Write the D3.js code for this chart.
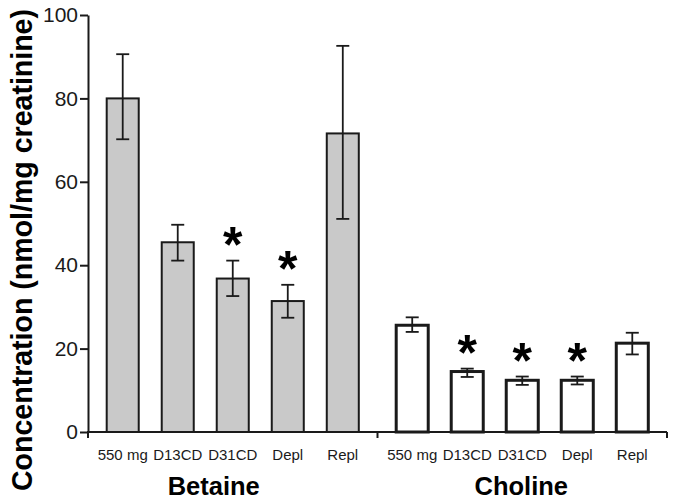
<!DOCTYPE html>
<html>
<head>
<meta charset="utf-8">
<script src="https://cdn.jsdelivr.net/npm/d3@7"></script>
<style>
  html, body { margin: 0; padding: 0; background: #fff; }
  svg { display: block; font-family: "Liberation Sans", Arial, sans-serif; }
</style>
</head>
<body>
<svg id="chart" width="675" height="503"></svg>
<script>
// ---- data ----
const groups = ["Betaine", "Choline"];
const categories = ["550 mg", "D13CD", "D31CD", "Depl", "Repl"];
const betaineMean = [80.0, 45.5, 36.8, 31.4, 71.6];
const betaineLow  = [70.2, 41.1, 32.6, 27.4, 51.1];
const betaineHigh = [90.6, 49.7, 41.1, 35.3, 92.6];
const betaineSig  = [false, false, true, true, false];
const cholineMean = [25.6, 14.5, 12.4, 12.4, 21.3];
const cholineLow  = [24.0, 13.2, 11.3, 11.4, 18.6];
const cholineHigh = [27.5, 15.2, 13.3, 13.3, 23.8];
const cholineSig  = [false, true, true, true, false];
const yTicks = [0, 20, 40, 60, 80, 100];
const yTitle = "Concentration (nmol/mg creatinine)";

const series = [
  { group: "Betaine", mean: betaineMean, low: betaineLow, high: betaineHigh, sig: betaineSig, fill: "#c9c9c9", sw: 2 },
  { group: "Choline", mean: cholineMean, low: cholineLow, high: cholineHigh, sig: cholineSig, fill: "#ffffff", sw: 3 }
];

const svg = d3.select("#chart");
const mLeft = 88, mRight = 667, mTop = 15, mBottom = 432;

const y = d3.scaleLinear().domain([0, 100]).range([mBottom, mTop]);
const x0 = d3.scaleBand().domain(groups).range([mLeft, mRight]).padding(0);
const x1 = d3.scaleBand().domain(categories).range([0, x0.bandwidth()])
  .paddingInner(0.418).paddingOuter(0.34);

const ink = "#1a1a1a";

// y axis
const yAxis = svg.append("g").attr("transform", `translate(${mLeft},0)`)
  .call(d3.axisLeft(y).tickValues(yTicks).tickSize(8).tickPadding(2).tickSizeOuter(0));
yAxis.select(".domain").attr("stroke", ink).attr("stroke-width", 2);
yAxis.selectAll(".tick line").attr("stroke", ink).attr("stroke-width", 2);
yAxis.selectAll(".tick text").attr("fill", ink).attr("font-size", 21)
  .attr("font-family", "Liberation Sans, Arial, sans-serif");

// x axis baseline with group ticks
svg.append("line").attr("x1", mLeft - 1).attr("x2", mRight).attr("y1", mBottom).attr("y2", mBottom)
  .attr("stroke", ink).attr("stroke-width", 2);
const bounds = [mLeft, x0("Choline"), mRight];
svg.selectAll(".gtick").data(bounds).enter().append("line")
  .attr("x1", d => d).attr("x2", d => d).attr("y1", mBottom).attr("y2", mBottom + 6)
  .attr("stroke", ink).attr("stroke-width", 2);

// bars
series.forEach(s => {
  const g = svg.append("g").attr("transform", `translate(${x0(s.group)},0)`);
  const bw = x1.bandwidth();
  categories.forEach((c, i) => {
    g.append("rect")
      .attr("x", x1(c)).attr("y", y(s.mean[i]))
      .attr("width", bw).attr("height", y(0) - y(s.mean[i]))
      .attr("fill", s.fill).attr("stroke", ink).attr("stroke-width", s.sw);
    const cx = x1(c) + bw / 2;
    g.append("line").attr("x1", cx).attr("x2", cx)
      .attr("y1", y(s.low[i])).attr("y2", y(s.high[i]))
      .attr("stroke", ink).attr("stroke-width", 1.8);
    [s.low[i], s.high[i]].forEach(v => {
      g.append("line").attr("x1", cx - 6.5).attr("x2", cx + 6.5)
        .attr("y1", y(v)).attr("y2", y(v))
        .attr("stroke", ink).attr("stroke-width", 1.8);
    });
    if (s.sig[i]) {
      g.append("text").attr("x", cx).attr("y", y(s.high[i]) + 1)
        .attr("text-anchor", "middle").attr("font-size", 50).attr("font-weight", "bold")
        .attr("fill", "#000").text("*");
    }
    g.append("text").attr("x", cx).attr("y", 460)
      .attr("text-anchor", "middle").attr("font-size", 15).attr("fill", ink).text(c);
  });
});

// group labels
const groupDx = { Betaine: -19, Choline: -1 };
svg.selectAll(".glabel").data(groups).enter().append("text")
  .attr("x", d => x0(d) + x0.bandwidth() / 2 + groupDx[d])
  .attr("y", 495).attr("text-anchor", "middle")
  .attr("font-size", 25.5).attr("font-weight", "bold").attr("fill", "#000").text(d => d);

// y title
svg.append("text")
  .attr("transform", "translate(32,491) rotate(-90)")
  .attr("text-anchor", "start").attr("font-size", 29).attr("font-weight", "bold")
  .attr("textLength", 482).attr("lengthAdjust", "spacingAndGlyphs")
  .attr("fill", "#000").text(yTitle);
</script>
</body>
</html>
